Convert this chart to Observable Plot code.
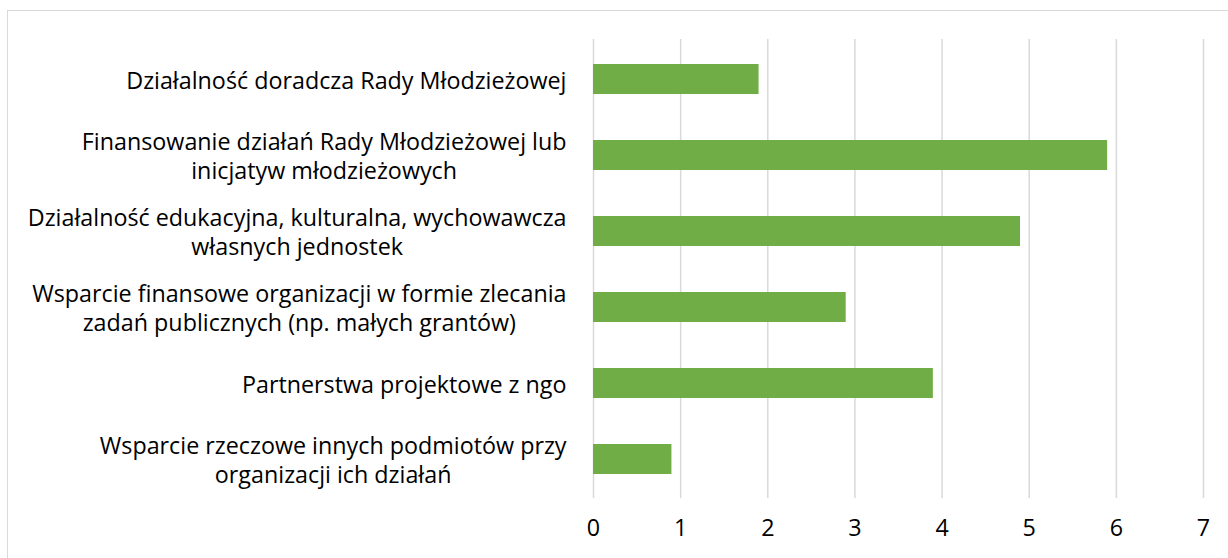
<!DOCTYPE html>
<html>
<head>
<meta charset="utf-8">
<script src="https://cdn.jsdelivr.net/npm/d3@7"></script>
<script src="https://cdn.jsdelivr.net/npm/@observablehq/plot@0.6"></script>
<style>
  html, body { margin: 0; padding: 0; background: #fff; overflow: hidden; }
  #frame { position: absolute; left: 7px; top: 10px; width: 1400px; height: 700px; border: 1.5px solid #d9d9d9; box-sizing: border-box; }
  #chart { position: absolute; left: 0; top: 0; }
</style>
</head>
<body>
<div id="frame"></div>
<div id="chart"></div>
<script>
const categories = [
  "Działalność doradcza Rady Młodzieżowej",
  "Finansowanie działań Rady Młodzieżowej lub\ninicjatyw młodzieżowych",
  "Działalność edukacyjna, kulturalna, wychowawcza\nwłasnych jednostek",
  "Wsparcie finansowe organizacji w formie zlecania\nzadań publicznych (np. małych grantów)",
  "Partnerstwa projektowe z ngo",
  "Wsparcie rzeczowe innych podmiotów przy\norganizacji ich działań"
];
const values = [1.9, 5.9, 4.9, 2.9, 3.9, 0.9];
const xTicks = [0, 1, 2, 3, 4, 5, 6, 7];

const data = categories.map((c, i) => ({category: c, value: values[i]}));

const FONT = "'Open Sans', sans-serif";
const FS = 23.3;
const GAP = 27;

const ctx = document.createElement("canvas").getContext("2d");
ctx.font = `${FS}px 'Open Sans'`;
const maxLineWidth = s => Math.max(...s.split("\n").map(l => ctx.measureText(l).width));

const labelMarks = categories.map(c =>
  Plot.text([c], {
    y: d => d,
    text: d => d,
    frameAnchor: "left",
    textAnchor: "middle",
    dx: -(GAP + maxLineWidth(c) / 2),
    fontSize: FS,
    lineHeight: 1.22,
    fill: "#000"
  })
);

const chart = Plot.plot({
  width: 1228,
  height: 558,
  marginLeft: 593,
  marginRight: 25,
  marginTop: 39,
  marginBottom: 60,
  style: {fontFamily: FONT, fontSize: FS + "px", color: "#000", background: "transparent"},
  x: {domain: [0, 7], ticks: xTicks, label: null},
  y: {domain: categories, label: null, paddingInner: 0.61, paddingOuter: 0.305, axis: null},
  marks: [
    Plot.gridX(xTicks, {stroke: "#d9d9d9", strokeWidth: 1.5, strokeOpacity: 1}),
    Plot.barX(data, {y: "category", x: "value", fill: "#70ad47"}),
    Plot.axisX({ticks: xTicks, tickFormat: d => String(d), tickSize: 0, tickPadding: 21, fontSize: FS, label: null, fill: "#000"}),
    ...labelMarks
  ]
});
document.getElementById("chart").appendChild(chart);
</script>
</body>
</html>
